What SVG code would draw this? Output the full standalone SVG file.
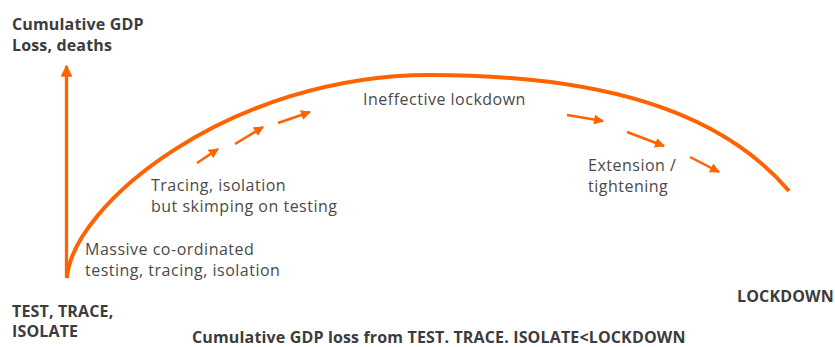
<svg xmlns="http://www.w3.org/2000/svg" width="835" height="347" viewBox="0 0 835 347">
<style>
.b{font-family:"Open Sans","Liberation Sans",sans-serif;font-weight:bold;font-size:16px;fill:#3c3c3c;letter-spacing:0.15px}
.r{font-family:"Open Sans","Liberation Sans",sans-serif;font-size:16px;fill:#4a4a4a;letter-spacing:0.5px}
.ln{stroke:#ff6200;fill:none}
</style>
<defs>
<marker id="ah" viewBox="0 0 10 10" refX="9" refY="5" markerWidth="4" markerHeight="4" markerUnits="strokeWidth" orient="auto">
<path d="M0,0 L10,5 L0,10 z" fill="#ff6200"/>
</marker>
<marker id="axh" viewBox="0 0 10 10" refX="9" refY="5" markerWidth="3.6" markerHeight="3.6" markerUnits="strokeWidth" orient="auto">
<path d="M0,0 L10,5 L0,10 z" fill="#ff6200"/>
</marker>
</defs>
<g id="connectors">
<line class="ln" x1="66.5" y1="278" x2="66.5" y2="66" stroke-width="3.3" marker-end="url(#axh)"/>
<path id="curve" class="ln" stroke-width="4" d="M67,278 C72,205 230,75 430,75 C600,75 720,110 789,191"/>
<line class="ln" stroke-width="2.5" x1="197" y1="163" x2="218" y2="149" marker-end="url(#ah)"/>
<line class="ln" stroke-width="2.5" x1="235" y1="144" x2="263" y2="127" marker-end="url(#ah)"/>
<line class="ln" stroke-width="2.5" x1="278" y1="123" x2="310" y2="112" marker-end="url(#ah)"/>
<line class="ln" stroke-width="2.5" x1="567" y1="115" x2="603" y2="121" marker-end="url(#ah)"/>
<line class="ln" stroke-width="2.5" x1="627" y1="132" x2="664" y2="146" marker-end="url(#ah)"/>
<line class="ln" stroke-width="2.5" x1="690" y1="157" x2="719" y2="172" marker-end="url(#ah)"/>
</g>
<g id="y-axis-label"><text class="b" x="12" y="30">Cumulative GDP</text><text class="b" x="12" y="51">Loss, deaths</text></g>
<g id="ineffective"><text class="r" x="363" y="105">Ineffective lockdown</text></g>
<g id="tracing"><text class="r" x="151" y="191">Tracing, isolation</text><text class="r" x="151" y="212">but skimping on testing</text></g>
<g id="massive"><text class="r" x="85" y="255">Massive co-ordinated</text><text class="r" x="85" y="276">testing, tracing, isolation</text></g>
<g id="extension"><text class="r" x="588" y="171">Extension /</text><text class="r" x="588" y="192">tightening</text></g>
<g id="ttt"><text class="b" x="12" y="317">TEST, TRACE,</text><text class="b" x="12" y="337">ISOLATE</text></g>
<g id="lockdown"><text class="b" x="737" y="302">LOCKDOWN</text></g>
<g id="caption"><text class="b" x="192" y="343">Cumulative GDP loss from TEST. TRACE. ISOLATE&lt;LOCKDOWN</text></g>
</svg>
